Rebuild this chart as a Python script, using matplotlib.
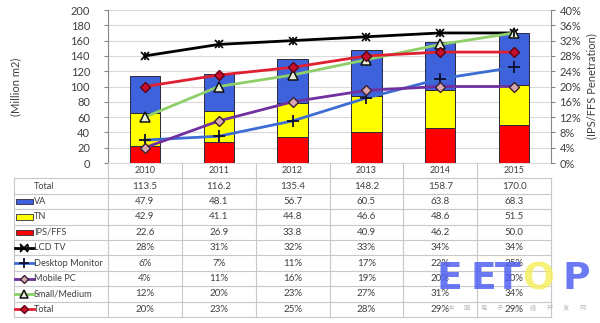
import matplotlib
matplotlib.use("Agg")
import matplotlib.pyplot as plt
from matplotlib.patches import Rectangle

plt.rcParams['font.family'] = ['Lato', 'DejaVu Sans']

years = ["2010", "2011", "2012", "2013", "2014", "2015"]
totals = [113.5, 116.2, 135.4, 148.2, 158.7, 170.0]
va = [47.9, 48.1, 56.7, 60.5, 63.8, 68.3]
tn = [42.9, 41.1, 44.8, 46.6, 48.6, 51.5]
ips_ffs = [22.6, 26.9, 33.8, 40.9, 46.2, 50.0]

lcd_tv = [28, 31, 32, 33, 34, 34]
desktop = [6, 7, 11, 17, 22, 25]
mobile_pc = [4, 11, 16, 19, 20, 20]
small_medium = [12, 20, 23, 27, 31, 34]
total_pen = [20, 23, 25, 28, 29, 29]

W, H = 600, 323
fig = plt.figure(figsize=(W / 100, H / 100), dpi=100)

def box(x0, y0, x1, y1):
    return [x0 / W, 1 - y1 / H, (x1 - x0) / W, (y1 - y0) / H]

TXT = '#404040'
GRID = '#D9D9D9'
AX = '#868686'
FS = 7

px_l, px_r, px_t, px_b = 108, 551, 10, 163
ax = fig.add_axes(box(px_l, px_t, px_r, px_b))
x = list(range(len(years)))

# stacked bars
bw = 0.41
c_ips, c_tn, c_va = '#FF0000', '#FFFF00', '#3D62DC'
bottom_tn = ips_ffs
bottom_va = [a + b for a, b in zip(ips_ffs, tn)]
ax.bar(x, ips_ffs, bw, color=c_ips, edgecolor='#2A2A3A', linewidth=0.7, zorder=3)
ax.bar(x, tn, bw, bottom=bottom_tn, color=c_tn, edgecolor='#2A2A3A', linewidth=0.7, zorder=3)
ax.bar(x, va, bw, bottom=bottom_va, color=c_va, edgecolor='#2A2A3A', linewidth=0.7, zorder=3)

ax.set_xlim(-0.5, 5.5)
ax.set_ylim(0, 200)
ax.set_yticks(range(0, 201, 20))
ax.set_xticks([])
ax.grid(axis='y', color=GRID, linewidth=0.8, zorder=0)
ax.set_axisbelow(True)
for s in ['top', 'right']:
    ax.spines[s].set_visible(False)
ax.spines['left'].set_color(AX)
ax.spines['bottom'].set_color(GRID)
ax.tick_params(axis='y', colors=AX, labelcolor=TXT, labelsize=8, length=3, width=0.8, pad=10)
ax.set_ylabel('(Million m2)', fontsize=8, color=TXT)
ax.yaxis.set_label_coords((21 - px_l) / (px_r - px_l), 0.5)

# penetration lines on secondary axis
ax2 = ax.twinx()
ax2.set_ylim(0, 40)
ax2.set_yticks(range(0, 41, 4))
ax2.set_yticklabels([f"{v}%" for v in range(0, 41, 4)])
for s in ['top', 'left', 'bottom']:
    ax2.spines[s].set_visible(False)
ax2.spines['right'].set_color(AX)
ax2.tick_params(axis='y', colors=AX, labelcolor=TXT, labelsize=8, length=3, width=0.8, pad=3)
ax2.set_ylabel('(IPS/FFS Penetration)', fontsize=8, color=TXT, labelpad=4)

styles = {
    'LCD TV': dict(color='black', marker='x', ms=6, mfc='black', mec='black', mew=1.2),
    'Desktop Monitor': dict(color='#3C6CD4', marker='+', ms=8, mfc='none', mec='#101030', mew=1.3),
    'Mobile PC': dict(color='#7030A0', marker='D', ms=5, mfc='#D8A8B0', mec='#3A2030', mew=1.0),
    'Small/Medium': dict(color='#8FCF6A', marker='^', ms=6.5, mfc='#E8F0D8', mec='#101010', mew=1.1),
    'Total': dict(color='#E02030', marker='D', ms=5, mfc='#C8102E', mec='#600010', mew=1.0),
}
series = [('LCD TV', lcd_tv), ('Desktop Monitor', desktop), ('Mobile PC', mobile_pc),
          ('Small/Medium', small_medium), ('Total', total_pen)]
for name, vals in series:
    st = styles[name]
    ax2.plot(x, vals, color=st['color'], lw=2, zorder=4,
             marker=st['marker'], ms=st['ms'], mfc=st['mfc'], mec=st['mec'], mew=st['mew'])
    if name == 'LCD TV':
        ax2.plot(x, vals, ls='none', marker='|', ms=6, mec='black', mew=1.2, zorder=5)

# data table beneath the plot
unit = (px_r - px_l) / 6.0
lab_w = (px_l - 14) / unit
tax = fig.add_axes(box(14, px_b, px_r, 317))
x_left = -0.5 - lab_w
tax.set_xlim(x_left, 5.5)
tax.set_ylim(10, 0)
tax.axis('off')

LINE = '#C8C8C8'
for r in range(1, 11):
    tax.plot([x_left, 5.5], [r, r], color=LINE, lw=0.8, clip_on=False)
tax.plot([x_left, x_left], [1, 10], color=LINE, lw=0.8, clip_on=False)
for k in range(7):
    y0 = 0 if k < 6 else 1
    tax.plot([k - 0.5, k - 0.5], [y0, 10], color=LINE, lw=0.8, clip_on=False)

for i, yr in enumerate(years):
    tax.text(i, 0.5, yr, ha='center', va='center', fontsize=FS - 0.5, color=TXT)

rows = [
    ('Total', [f"{v:.1f}" for v in totals], None),
    ('VA', [f"{v:.1f}" for v in va], ('bar', c_va)),
    ('TN', [f"{v:.1f}" for v in tn], ('bar', c_tn)),
    ('IPS/FFS', [f"{v:.1f}" for v in ips_ffs], ('bar', c_ips)),
]
for name, vals in series:
    rows.append((name, [f"{v}%" for v in vals], ('line', name)))

text_x = x_left + 20 / unit
for r, (label, cells, key) in enumerate(rows, start=1):
    yc = r + 0.5
    tax.text(text_x, yc, label, ha='left', va='center', fontsize=6.6, color=TXT)
    for i, c in enumerate(cells):
        tax.text(i, yc, c, ha='center', va='center', fontsize=FS, color=TXT)
    if key is None:
        continue
    if key[0] == 'bar':
        tax.add_patch(Rectangle((x_left + 2 / unit, yc - 0.17), 17 / unit, 0.34,
                                facecolor=key[1], edgecolor='#2A2A3A', lw=0.6, clip_on=False))
    else:
        st = styles[key[1]]
        kx0, kx1 = x_left + 1 / unit, x_left + 20 / unit
        tax.plot([kx0, kx1], [yc, yc], color=st['color'], lw=2, clip_on=False)
        tax.plot([(kx0 + kx1) / 2], [yc], marker=st['marker'], ms=st['ms'] * 0.85,
                 mfc=st['mfc'], mec=st['mec'], mew=st['mew'], clip_on=False)
        if key[1] == 'LCD TV':
            for dx in (-3.5 / unit, 3.5 / unit):
                tax.plot([(kx0 + kx1) / 2 + dx], [yc], marker='|', ms=5, mec='black',
                         mew=1.2, clip_on=False)

# site watermark
wm = [('E', 449, '#4A5CF0'), ('E', 483, '#4A5CF0'), ('T', 508, '#4A5CF0'),
      ('O', 538, '#F5EE5A'), ('P', 576, '#4A5CF0')]
for ch, cx, col in wm:
    fig.text(cx / W, 1 - 279 / H, ch, ha='center', va='center', fontsize=27,
             fontweight='heavy', color=col, alpha=0.82, family='DejaVu Sans')
for j, ch in enumerate("中国电子顶级开发网"):
    fig.text((450 + j * 16.6) / W, 1 - 308 / H, ch, ha='center', va='center',
             fontsize=4.5, color='#B8B8B8', family=['Noto Sans CJK SC', 'DejaVu Sans'])

fig.savefig('out.png', dpi=100, facecolor='white')
